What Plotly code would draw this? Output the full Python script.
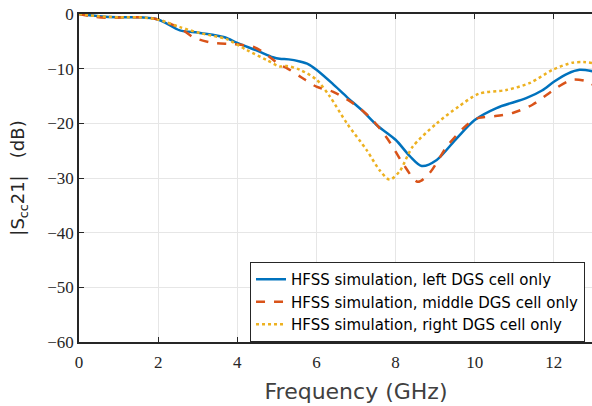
import plotly.graph_objects as go

# Data
freq_left = [0, 0.5, 1.0, 1.5, 2.0, 2.55, 3.0, 3.38, 3.7, 4.0, 4.5, 4.9, 5.07, 5.3, 5.58, 5.8, 6.0, 6.4, 6.77, 7.15, 7.52, 8.0, 8.36, 8.66, 9.04, 9.55, 10.0, 10.55, 11.3, 11.7, 12.0, 12.35, 12.65, 13.0]
s21_left = [0, -0.4, -0.6, -0.6, -1.0, -3.0, -3.4, -3.8, -4.3, -5.3, -6.7, -7.9, -8.2, -8.3, -8.7, -9.2, -10.2, -12.7, -15.2, -17.6, -20.3, -23.0, -26.0, -27.8, -26.7, -22.7, -19.4, -17.2, -15.4, -14.0, -12.4, -10.9, -10.2, -10.5]

freq_mid = [0, 0.4, 0.8, 1.2, 1.6, 2.0, 2.55, 2.9, 3.4, 3.9, 4.4, 4.7, 5.07, 5.25, 5.58, 6.0, 6.41, 6.92, 7.42, 7.85, 8.18, 8.56, 8.86, 9.29, 9.8, 10.1, 10.5, 10.96, 11.46, 12.07, 12.47, 12.82, 13.0]
s21_mid = [0, -0.5, -0.7, -0.6, -0.6, -1.0, -2.6, -4.3, -5.3, -5.5, -6.0, -7.2, -9.3, -9.9, -11.4, -13.3, -14.2, -16.3, -19.4, -23.4, -27.3, -30.7, -29.1, -24.3, -20.3, -19.0, -18.7, -18.1, -16.6, -13.5, -12.0, -12.3, -13.0]

freq_right = [0, 0.5, 1.0, 1.5, 2.0, 2.55, 3.06, 3.73, 4.24, 4.74, 5.07, 5.25, 5.58, 6.0, 6.34, 6.77, 7.27, 7.6, 7.85, 8.1, 8.43, 9.04, 9.6, 10.1, 10.8, 11.4, 11.97, 12.47, 12.75, 13.0]
s21_right = [0, -0.4, -0.6, -0.6, -1.0, -2.4, -3.5, -4.6, -6.6, -8.4, -9.6, -9.5, -10.2, -12.0, -15.1, -20.0, -24.9, -28.6, -30.3, -28.8, -24.3, -20.0, -16.9, -14.6, -13.9, -12.6, -10.2, -8.9, -8.8, -9.0]

names = ["HFSS simulation, left DGS cell only",
         "HFSS simulation, middle DGS cell only",
         "HFSS simulation, right DGS cell only"]

x_ticks = [0, 2, 4, 6, 8, 10, 12, 14]
y_ticks = [0, -10, -20, -30, -40, -50, -60]

fig = go.Figure()
fig.add_trace(go.Scatter(x=freq_left, y=s21_left, mode="lines", name=names[0],
                         line=dict(color="#0072BD", width=2.5, shape="spline", smoothing=0.8)))
fig.add_trace(go.Scatter(x=freq_mid, y=s21_mid, mode="lines", name=names[1],
                         line=dict(color="#D95319", width=2.5, dash="dash", shape="spline", smoothing=0.8)))
fig.add_trace(go.Scatter(x=freq_right, y=s21_right, mode="lines", name=names[2],
                         line=dict(color="#EDB120", width=2.5, dash="dot", shape="spline", smoothing=0.8)))

axis_common = dict(
    showgrid=True, gridcolor="#E6E6E6", gridwidth=1,
    showline=True, linecolor="#262626", linewidth=1.5,
    ticks="inside", ticklen=5, tickcolor="#262626", mirror="ticks",
    zeroline=False,
    tickfont=dict(family="Liberation Serif", size=17, color="#262626"),
)

# The original figure is wider than the 592 px crop: the axis runs to 14 GHz
fig.update_layout(
    width=640, height=406,
    margin=dict(l=79, r=7, t=14, b=64, autoexpand=False),
    paper_bgcolor="white", plot_bgcolor="white",
    xaxis=dict(range=[0, 14], tickvals=x_ticks, ticklabelstandoff=4,
               title=dict(text="Frequency (GHz)", font=dict(family="DejaVu Sans", size=22, color="#404040"), standoff=12),
               **axis_common),
    yaxis=dict(range=[-60, 0], tickvals=y_ticks,
               ticktext=["0", "\u221210", "\u221220", "\u221230", "\u221240", "\u221250", "\u221260"],
               title=dict(text="|S<sub>cc</sub>21|   (dB)", font=dict(family="DejaVu Sans", size=18, color="#262626"), standoff=18),
               **axis_common),
    legend=dict(x=0.3087, y=0, xanchor="left", yanchor="bottom",
                bgcolor="white", bordercolor="#262626", borderwidth=1,
                font=dict(family="DejaVu Sans", size=15, color="black"),
                itemwidth=30, tracegroupgap=0),
    showlegend=True,
)

fig.write_html("out.html", config={"displayModeBar": False},
               post_script="document.body.style.margin='0';document.body.style.overflow='hidden';")
